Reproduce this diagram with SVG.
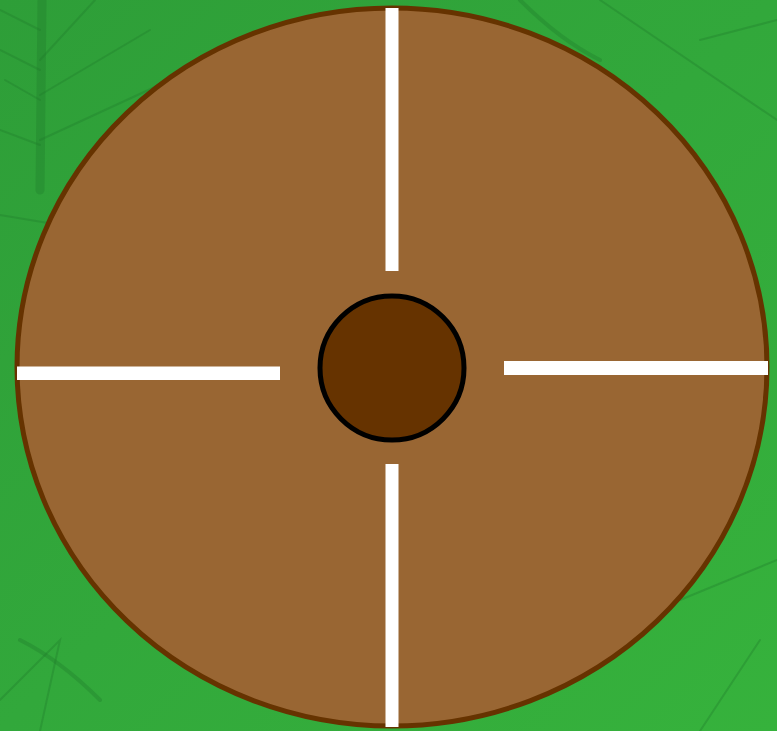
<svg xmlns="http://www.w3.org/2000/svg" width="777" height="731" viewBox="0 0 777 731">
  <defs>
    <linearGradient id="bg" x1="0" y1="0" x2="1" y2="1">
      <stop offset="0" stop-color="#2e9e38"/>
      <stop offset="0.5" stop-color="#32a83b"/>
      <stop offset="1" stop-color="#36b23c"/>
    </linearGradient>
    <style>
      .vein { fill: none; stroke: #1f7a2c; stroke-opacity: 0.35; stroke-linecap: round; }
      .bar { fill: #ffffff; }
    </style>
  </defs>
  <g id="background">
    <rect x="0" y="0" width="777" height="731" fill="url(#bg)"/>
    <path class="vein" stroke-width="9" d="M42 0 L40 190"/>
    <path class="vein" stroke-width="2" d="M40 30 L0 10 M40 70 L0 50 M40 100 L5 80 M40 145 L0 130 M40 60 L95 0 M40 95 L150 30 M40 140 L170 80"/>
    <path class="vein" stroke-width="2" d="M0 215 L60 225 M0 700 L60 640 L40 731 M600 0 L777 120 M700 40 L777 20 M680 600 L777 560 M700 731 L760 640"/>
    <path class="vein" stroke-width="4" d="M520 0 Q560 40 600 60 M20 640 Q60 660 100 700"/>
  </g>
  <g id="plate">
    <ellipse cx="392" cy="367" rx="375" ry="359" fill="#996633" stroke="#663300" stroke-width="5"/>
  </g>
  <g id="dividers">
    <rect class="bar" x="385.5" y="8" width="13" height="263"/>
    <rect class="bar" x="385.5" y="464" width="13" height="263"/>
    <rect class="bar" x="17" y="366.5" width="263" height="13.5"/>
    <rect class="bar" x="504" y="361" width="264" height="14"/>
  </g>
  <g id="center">
    <circle cx="392" cy="368" r="72" fill="#663300" stroke="#000000" stroke-width="5"/>
  </g>
</svg>
